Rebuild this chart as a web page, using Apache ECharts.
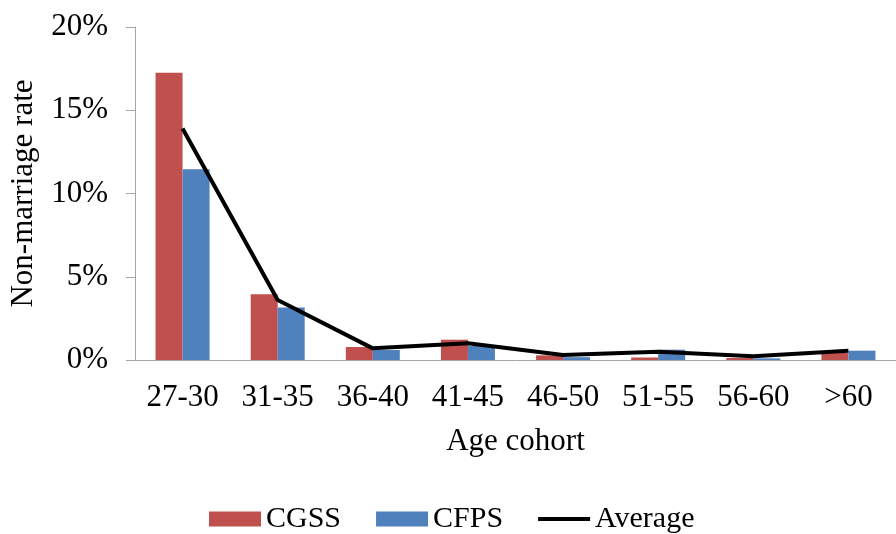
<!DOCTYPE html>
<html>
<head>
<meta charset="utf-8">
<script src="https://cdn.jsdelivr.net/npm/echarts@6/dist/echarts.min.js"></script>
<style>
  html, body { margin: 0; padding: 0; background: #fff; }
  #chart { width: 896px; height: 534px; }
</style>
</head>
<body>
<div id="chart"></div>
<script>
const cohorts = ['27-30', '31-35', '36-40', '41-45', '46-50', '51-55', '56-60', '>60'];
const cgss = [17.25, 3.95, 0.78, 1.22, 0.28, 0.15, 0.12, 0.42];
const cfps = [11.45, 3.15, 0.6, 0.85, 0.17, 0.62, 0.1, 0.56];
const average = [13.9, 3.6, 0.7, 1.0, 0.3, 0.5, 0.22, 0.55];

const font = 'Liberation Serif';
// thin line icon for the legend, padded to the same box as the bar swatches
const lineIcon = 'path://M0,0 L0.01,0 L0.01,0.01 Z M0,5.5 L54,5.5 L54,9.5 L0,9.5 Z M0,15 L0.01,15 L0.01,14.99 Z';

let chart = echarts.init(document.getElementById('chart'));
chart.setOption({
  animation: false,
  grid: { left: 135, top: 27, width: 771, bottom: 174 },
  legend: {
    top: 504,
    left: 209,
    padding: 0,
    itemWidth: 52,
    itemHeight: 15,
    itemGap: 35,
    textStyle: { fontFamily: font, fontSize: 30, color: '#000' },
    data: [
      { name: 'CGSS', icon: 'rect' },
      { name: 'CFPS', icon: 'rect' },
      { name: 'Average', icon: lineIcon }
    ]
  },
  xAxis: {
    type: 'category',
    data: cohorts,
    name: 'Age cohort',
    nameLocation: 'middle',
    nameGap: 66,
    nameTextStyle: { fontFamily: font, fontSize: 31, color: '#000' },
    axisLine: { lineStyle: { color: '#a6a6a6', width: 1 } },
    axisTick: { length: 8, lineStyle: { color: '#a6a6a6' } },
    axisLabel: { interval: 0, fontFamily: font, fontSize: 31, color: '#000', margin: 22 }
  },
  yAxis: {
    type: 'value',
    min: 0,
    max: 20,
    interval: 5,
    name: 'Non-marriage rate',
    nameLocation: 'middle',
    nameGap: 96,
    nameTextStyle: { fontFamily: font, fontSize: 31, color: '#000' },
    splitLine: { show: false },
    axisLine: { show: true, lineStyle: { color: '#a6a6a6', width: 1 } },
    axisTick: { show: true, length: 9, lineStyle: { color: '#a6a6a6' } },
    axisLabel: { fontFamily: font, fontSize: 31, color: '#000', margin: 27, formatter: '{value}%' }
  },
  series: [
    {
      name: 'CGSS',
      type: 'bar',
      data: cgss,
      barWidth: 27,
      barGap: '0%',
      itemStyle: { color: '#C0504D' }
    },
    {
      name: 'CFPS',
      type: 'bar',
      data: cfps,
      barWidth: 27,
      barGap: '0%',
      itemStyle: { color: '#4F81BD' }
    },
    {
      name: 'Average',
      type: 'line',
      data: average,
      symbol: 'none',
      z: 5,
      itemStyle: { color: '#000' },
      lineStyle: { color: '#000', width: 4 }
    }
  ]
});
</script>
</body>
</html>
